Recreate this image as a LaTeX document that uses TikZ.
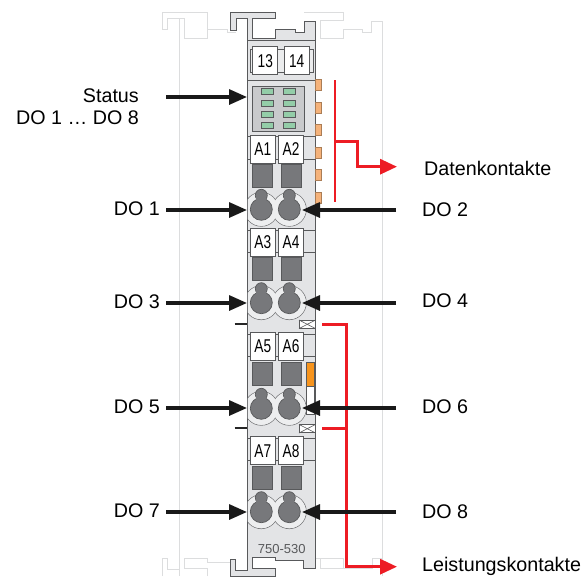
\documentclass[tikz,border=0pt]{standalone}
\usepackage{fontspec}
\setmainfont{Liberation Sans}
\usetikzlibrary{arrows.meta,backgrounds,positioning}
\pgfdeclarelayer{edgelayer}
\pgfdeclarelayer{nodelayer}
\pgfsetlayers{nodelayer,main,edgelayer}
\definecolor{bodygray}{HTML}{E3E4E6}
\definecolor{ringgray}{HTML}{EDEEEF}
\definecolor{holegray}{HTML}{77787B}
\definecolor{panelgray}{HTML}{C9CACC}
\definecolor{edgegray}{HTML}{58595B}
\definecolor{ghostgray}{HTML}{DCDDDE}
\definecolor{ledgreen}{HTML}{93CDA8}
\definecolor{pinorange}{HTML}{F5B27A}
\definecolor{slotorange}{HTML}{F7941D}
\definecolor{wagored}{HTML}{ED1C24}
\newcommand{\slim}[1]{\scalebox{.74}[1]{#1}}
\tikzset{
	ghost/.style={draw=ghostgray, line width=1pt},
	body/.style={draw=edgegray, fill=bodygray, line width=1pt},
	divider/.style={draw=edgegray, line width=.8pt},
	label/.style={font=\fontsize{19.7}{22}\selectfont, inner sep=0pt},
	terminal/.style={draw=edgegray, fill=white, line width=.8pt, minimum width=25pt, minimum height=28pt, inner sep=0pt, font=\fontsize{18.5}{20}\selectfont},
	square/.style={draw=edgegray, fill=holegray, line width=.7pt, minimum width=20pt, minimum height=23pt, inner sep=0pt},
	led/.style={draw=edgegray, fill=ledgreen, line width=.7pt, minimum width=12pt, minimum height=6pt, inner sep=0pt},
	pin/.style={draw=pinorange!70!black, fill=pinorange, line width=.4pt, minimum width=6pt, minimum height=11pt, inner sep=0pt},
	ring/.style={circle, draw=edgegray!80, fill=ringgray, line width=.7pt, minimum size=34pt, inner sep=0pt},
	ringfill/.style={circle, fill=ringgray, minimum size=33pt, inner sep=0pt},
	hole/.style={circle, draw=edgegray, fill=holegray, line width=.7pt, minimum size=22pt, inner sep=0pt},
	neck/.style={circle, draw=edgegray, fill=holegray, line width=.7pt, minimum size=12pt, inner sep=0pt},
	throat/.style={fill=holegray, minimum width=10pt, minimum height=7pt, inner sep=0pt},
	fuse/.style={draw=edgegray, fill=white, line width=.6pt, minimum width=16pt, minimum height=8pt, inner sep=0pt},
	blackarrow/.style={line width=3.2pt, draw=black!90, -{Triangle[length=18pt,width=15pt]}},
	redline/.style={line width=3pt, draw=wagored},
	redthin/.style={line width=1.5pt, draw=wagored},
	redarrow/.style={redline, -{Triangle[length=17pt,width=15pt]}}
}
\begin{document}
\begin{tikzpicture}[x=1pt,y=-1pt]
	\useasboundingbox (0,0) rectangle (584,576);
	\begin{pgfonlayer}{nodelayer}
		% neighbouring modules
		\draw [ghost] (179.3,18.3) -- (167.3,18.3) -- (167.3,29.3) -- (162.7,29.3) -- (162.7,12.7) -- (207.3,12.7) -- (207.3,29.3) -- (227.3,29.3) -- (227.3,32) -- (236,32);
		\draw [ghost] (179.3,18.3) -- (179.3,576);
		\draw [ghost] (207.3,29.3) -- (207.3,38) -- (184.7,38) -- (184.7,18.3) -- (179.3,18.3);
		\draw [ghost] (304,12.7) -- (343.3,12.7) -- (343.3,20.7) -- (320.7,20.7) -- (320.7,38) -- (343.3,38) -- (343.3,29.3) -- (362.7,29.3) -- (362.7,32.3) -- (371.7,32.3) -- (371.7,21.3) -- (382.7,21.3) -- (382.7,576);
		\draw [ghost] (162.7,576) -- (162.7,558) -- (167.3,558) -- (167.3,569) -- (179.3,569);
		\draw [ghost] (207.3,576) -- (207.3,568) -- (184.7,568) -- (184.7,558) -- (207.3,558) -- (207.3,562) -- (230,562);
		\draw [ghost] (315.3,558) -- (343.3,558) -- (343.3,568) -- (320.7,568) -- (320.7,558);
		\draw [ghost] (343.3,568) -- (372,568) -- (372,558) -- (382.7,558);
	\end{pgfonlayer}
	% module housing
	\draw [body] (230,12.7) -- (275.3,12.7) -- (275.3,18.3) -- (252.7,18.3) -- (252.7,38.3) -- (275.3,38.3) -- (275.3,29.3) -- (295.3,29.3) -- (295.3,32.3) -- (304,32.3) -- (304,21.7) -- (315.3,21.7) -- (315.3,568) -- (303.3,568) -- (303.3,560) -- (275.3,560) -- (275.3,557.3) -- (252.7,557.3) -- (252.7,568) -- (275.3,568) -- (275.3,576) -- (230,576) -- (230,559.3) -- (235.3,559.3) -- (235.3,570.7) -- (247.3,570.7) -- (247.3,18.3) -- (236,18.3) -- (236,30) -- (230,30) -- cycle;
	\draw [divider] (247.3,40.7) -- (315.3,40.7);
	\draw [divider] (247.3,80.3) -- (315.3,80.3);
	\draw [divider] (247.3,136.7) -- (315.3,136.7);
	\draw [divider] (247.3,159.3) -- (315.3,159.3);
	\draw [divider] (247.3,230) -- (315.3,230);
	\draw [divider] (247.3,252.3) -- (315.3,252.3);
	\draw [divider] (247.3,334) -- (315.3,334);
	\draw [divider] (247.3,356.7) -- (315.3,356.7);
	\draw [divider] (247.3,438.3) -- (315.3,438.3);
	\draw [divider] (247.3,460.7) -- (315.3,460.7);

	% marker strip and status panel
	\draw [divider, fill=bodygray!70!white] (250,49) rectangle (313,72);
	\node [terminal] (t13) at (265.3,60.8) {\slim{13}};
	\node [terminal] (t14) at (296.7,60.8) {\slim{14}};
	\node [draw=edgegray, fill=panelgray, line width=.8pt, minimum width=51.3pt, minimum height=45.3pt, inner sep=0pt] (panel) at (278.3,108.7) {};
	\node [led] (led1) at (267,91.7) {};
	\node [led] (led2) at (289.5,91.7) {};
	\node [led] (led3) at (267,103) {};
	\node [led] (led4) at (289.5,103) {};
	\node [led] (led5) at (267,114.3) {};
	\node [led] (led6) at (289.5,114.3) {};
	\node [led] (led7) at (267,125.3) {};
	\node [led] (led8) at (289.5,125.3) {};

	% data contacts
	\node [pin] (pin1) at (318.5,84.7) {};
	\node [pin] (pin2) at (318.5,107.5) {};
	\node [pin] (pin3) at (318.5,129.5) {};
	\node [pin] (pin4) at (318.5,152.3) {};
	\node [pin] (pin5) at (318.5,175) {};
	\node [pin] (pin6) at (318.5,197.2) {};

	% terminal labels
	\node [terminal] (a1) at (262.8,149.2) {\slim{A1}};
	\node [terminal] (a2) at (291,149.2) {\slim{A2}};
	\node [terminal] (a3) at (262.8,242.5) {\slim{A3}};
	\node [terminal] (a4) at (291,242.5) {\slim{A4}};
	\node [terminal] (a5) at (262.8,346.5) {\slim{A5}};
	\node [terminal] (a6) at (291,346.5) {\slim{A6}};
	\node [terminal] (a7) at (262.8,450.7) {\slim{A7}};
	\node [terminal] (a8) at (291,450.7) {\slim{A8}};
	\node [square] (s1) at (262.7,176.3) {};
	\node [square] (s2) at (291,176.3) {};
	\node [square] (s3) at (262.7,269.2) {};
	\node [square] (s4) at (291,269.2) {};
	\node [square] (s5) at (262.7,373.8) {};
	\node [square] (s6) at (291,373.8) {};
	\node [square] (s7) at (262.7,477.7) {};
	\node [square] (s8) at (291,477.7) {};

	% wire entries
	\begin{scope}
		\clip (247.8,180) rectangle (315,540);
		\node [ring] (r1) at (261.3,209.3) {};
		\node [ring] (r2) at (289.3,209.3) {};
		\node [ring] (r3) at (261.3,302.7) {};
		\node [ring] (r4) at (289.3,302.7) {};
		\node [ring] (r5) at (261.3,408.3) {};
		\node [ring] (r6) at (289.3,408.3) {};
		\node [ring] (r7) at (261.3,511.7) {};
		\node [ring] (r8) at (289.3,511.7) {};
		\node [ringfill] (rf1) at (261.3,209.3) {};
		\node [ringfill] (rf2) at (289.3,209.3) {};
		\node [ringfill] (rf3) at (261.3,302.7) {};
		\node [ringfill] (rf4) at (289.3,302.7) {};
		\node [ringfill] (rf5) at (261.3,408.3) {};
		\node [ringfill] (rf6) at (289.3,408.3) {};
		\node [ringfill] (rf7) at (261.3,511.7) {};
		\node [ringfill] (rf8) at (289.3,511.7) {};
	\end{scope}
	\node [neck] (n1) at (261.3,195.3) {};
	\node [neck] (n2) at (289.3,195.3) {};
	\node [neck] (n3) at (261.3,288.7) {};
	\node [neck] (n4) at (289.3,288.7) {};
	\node [neck] (n5) at (261.3,394.3) {};
	\node [neck] (n6) at (289.3,394.3) {};
	\node [neck] (n7) at (261.3,497.7) {};
	\node [neck] (n8) at (289.3,497.7) {};
	\node [hole] (h1) at (261.3,209.3) {};
	\node [hole] (h2) at (289.3,209.3) {};
	\node [hole] (h3) at (261.3,302.7) {};
	\node [hole] (h4) at (289.3,302.7) {};
	\node [hole] (h5) at (261.3,408.3) {};
	\node [hole] (h6) at (289.3,408.3) {};
	\node [hole] (h7) at (261.3,511.7) {};
	\node [hole] (h8) at (289.3,511.7) {};
	\node [throat] (g1) at (261.3,199.3) {};
	\node [throat] (g2) at (289.3,199.3) {};
	\node [throat] (g3) at (261.3,292.7) {};
	\node [throat] (g4) at (289.3,292.7) {};
	\node [throat] (g5) at (261.3,398.3) {};
	\node [throat] (g6) at (289.3,398.3) {};
	\node [throat] (g7) at (261.3,501.7) {};
	\node [throat] (g8) at (289.3,501.7) {};

	% power contacts
	\node [draw=edgegray, fill=slotorange, line width=.6pt, minimum width=7.6pt, minimum height=24.7pt, inner sep=0pt] (slot) at (310.5,374.3) {};
	\node [draw=edgegray, fill=white, line width=.6pt, minimum width=7.6pt, minimum height=27.3pt, inner sep=0pt] (slotlow) at (310.5,400.3) {};
	\node [fuse] (f1) at (307.3,324.3) {};
	\node [fuse] (f2) at (307.3,428.7) {};
	\draw [edgegray, line width=.6pt] (f1.north west) to (f1.south east);
	\draw [edgegray, line width=.6pt] (f1.south west) to (f1.north east);
	\draw [edgegray, line width=.6pt] (f2.north west) to (f2.south east);
	\draw [edgegray, line width=.6pt] (f2.south west) to (f2.north east);
	\node [font=\fontsize{13}{15}\selectfont, text=edgegray, inner sep=0pt] (type) at (281.7,548.7) {750-530};

	% texts
	\node [label, anchor=east] (status) at (139,96) {Status};
	\node [label, anchor=east] (dostatus) at (139,118) {DO 1 … DO 8};
	\node [label, anchor=east] (do1) at (160,209) {DO 1};
	\node [label, anchor=east] (do3) at (160,302) {DO 3};
	\node [label, anchor=east] (do5) at (160,407) {DO 5};
	\node [label, anchor=east] (do7) at (160,511) {DO 7};
	\node [label, anchor=west] (do2) at (422,210) {DO 2};
	\node [label, anchor=west] (do4) at (422,301) {DO 4};
	\node [label, anchor=west] (do6) at (422,407) {DO 6};
	\node [label, anchor=west] (do8) at (422,512) {DO 8};
	\node [label, anchor=west] (daten) at (424,168) {Datenkontakte};
	\node [label, anchor=west] (leistung) at (422,566) {Leistungskontakte};

	\coordinate (statusin) at (247,97);
	\coordinate (statusout) at (166,97);
	\coordinate (in1) at (247,210);
	\coordinate (out1) at (166,210);
	\coordinate (in2) at (302,210);
	\coordinate (out2) at (396,210);
	\coordinate (in3) at (247,303);
	\coordinate (out3) at (166,303);
	\coordinate (in4) at (302,303);
	\coordinate (out4) at (396,303);
	\coordinate (in5) at (247,408);
	\coordinate (out5) at (166,408);
	\coordinate (in6) at (302,408);
	\coordinate (out6) at (396,408);
	\coordinate (in7) at (247,512);
	\coordinate (out7) at (166,512);
	\coordinate (in8) at (302,512);
	\coordinate (out8) at (396,512);
	\coordinate (dash1a) at (234.7,324.3);
	\coordinate (dash1b) at (247,324.3);
	\coordinate (dash2a) at (234.7,428.3);
	\coordinate (dash2b) at (247,428.3);
	\coordinate (datatop) at (335,80);
	\coordinate (databot) at (335,202);
	\coordinate (datajoin) at (335,141);
	\coordinate (databend) at (357,141);
	\coordinate (datadown) at (357,166.7);
	\coordinate (datatip) at (397,166.7);
	\coordinate (powerstart) at (322,324.3);
	\coordinate (powerbend) at (346,324.3);
	\coordinate (powerstub) at (322,428.3);
	\coordinate (powerjoin) at (346,428.3);
	\coordinate (powerdown) at (346,566.7);
	\coordinate (powertip) at (397,566.7);

	\begin{pgfonlayer}{edgelayer}
		\draw [redthin] (datatop) to (databot);
		\draw [redarrow] (datajoin) -- (databend) -- (datadown) -- (datatip);
		\draw [redarrow] (powerstart) -- (powerbend) -- (powerdown) -- (powertip);
		\draw [redline] (powerstub) to (powerjoin);
		\draw [line width=2pt, black!85] (dash1a) to (dash1b);
		\draw [line width=2pt, black!85] (dash2a) to (dash2b);
		\draw [blackarrow] (statusout) to (statusin);
		\draw [blackarrow] (out1) to (in1);
		\draw [blackarrow] (out2) to (in2);
		\draw [blackarrow] (out3) to (in3);
		\draw [blackarrow] (out4) to (in4);
		\draw [blackarrow] (out5) to (in5);
		\draw [blackarrow] (out6) to (in6);
		\draw [blackarrow] (out7) to (in7);
		\draw [blackarrow] (out8) to (in8);
	\end{pgfonlayer}
\end{tikzpicture}
\end{document}
